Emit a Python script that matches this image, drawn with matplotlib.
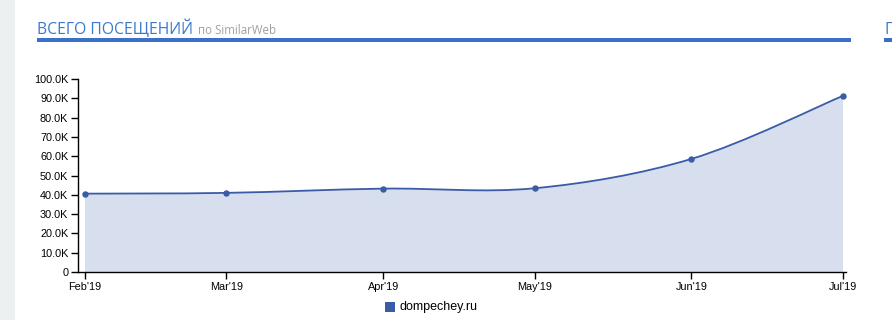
import numpy as np
import matplotlib.pyplot as plt
import matplotlib.dates as mdates
from matplotlib.path import Path
from matplotlib.patches import PathPatch, Rectangle
from matplotlib.ticker import FuncFormatter
from datetime import datetime

months = ["2019-02-01", "2019-03-01", "2019-04-01", "2019-05-01", "2019-06-01", "2019-07-01"]
visits = [40600, 41000, 43200, 43400, 58600, 91300]
site = "dompechey.ru"
y_ticks = [0, 10000, 20000, 30000, 40000, 50000, 60000, 70000, 80000, 90000, 100000]

line_col = "#3a5ca8"
fill_col = "#d7dfee"


def cardinal_path(x, y):
    # catmull-rom style bezier segments, ends duplicated (like d3 curveCardinal)
    pts = np.column_stack([x, y]).astype(float)
    ext = np.vstack([pts[:1], pts, pts[-1:]])
    verts = [tuple(pts[0])]
    codes = [Path.MOVETO]
    for i in range(len(pts) - 1):
        p0, p1, p2, p3 = ext[i], ext[i + 1], ext[i + 2], ext[i + 3]
        c1 = p1 + (p2 - p0) / 6
        c2 = p2 - (p3 - p1) / 6
        verts += [tuple(c1), tuple(c2), tuple(p2)]
        codes += [Path.CURVE4] * 3
    return verts, codes


dates = [datetime.strptime(m, "%Y-%m-%d") for m in months]
xs = mdates.date2num(dates)

fig = plt.figure(figsize=(8.92, 3.2), dpi=100)
fig.patch.set_facecolor("white")
plt.rcParams['font.family'] = ['Liberation Sans', 'DejaVu Sans']

# side strip and header
fig.add_artist(Rectangle((0, 0), 15 / 892, 1, transform=fig.transFigure, color="#ecf0f1", lw=0))
fig.add_artist(Rectangle((37 / 892, 1 - 42 / 320), (851 - 37) / 892, 4 / 320,
                         transform=fig.transFigure, color="#3a70c8", lw=0))
fig.add_artist(Rectangle((884 / 892, 1 - 42 / 320), 10 / 892, 4 / 320,
                         transform=fig.transFigure, color="#3a70c8", lw=0))
t1 = fig.text(37 / 892, 1 - 34 / 320, "ВСЕГО ПОСЕЩЕНИЙ", color="#3b78d0", fontsize=11.3,
              family=["Open Sans", "DejaVu Sans"], va="baseline")
fig.canvas.draw()
bb = t1.get_window_extent()
fig.text((bb.x1 + 5) / 892, 1 - 34 / 320, "по SimilarWeb", color="#a0a0a0", fontsize=8.3,
         family=["Open Sans", "DejaVu Sans"], va="baseline")
# next panel's title, cut by the edge as in the page
fig.text(884 / 892, 1 - 34 / 320, "П", color="#3b78d0", fontsize=11.3,
         family=["Open Sans", "DejaVu Sans"], va="baseline", clip_on=False)

ax = fig.add_axes([78 / 892, 1 - 272 / 320, (846 - 78) / 892, (272 - 79) / 320])
px_day = (843 - 85) / (xs[-1] - xs[0])
ax.set_xlim(xs[0] - 7 / px_day, xs[-1] + 3 / px_day)
ax.set_ylim(0, 100000)

verts, codes = cardinal_path(xs, visits)
fill_verts = verts + [(xs[-1], 0), (xs[0], 0), verts[0]]
fill_codes = codes + [Path.LINETO, Path.LINETO, Path.CLOSEPOLY]
ax.add_patch(PathPatch(Path(fill_verts, fill_codes), facecolor=fill_col, edgecolor="none", zorder=1))
ax.add_patch(PathPatch(Path(verts, codes), facecolor="none", edgecolor=line_col, lw=1.3, zorder=2))
ax.plot(xs, visits, "o", color=line_col, ms=3.6, zorder=3)

for s in ["top", "right"]:
    ax.spines[s].set_visible(False)
for s in ["left", "bottom"]:
    ax.spines[s].set_color("black")
    ax.spines[s].set_linewidth(1)

ax.set_yticks(y_ticks)
ax.yaxis.set_major_formatter(FuncFormatter(lambda v, p: "0" if v == 0 else "%.1fK" % (v / 1000)))
ax.set_xticks(xs)
ax.set_xticklabels([d.strftime("%b'%y") for d in dates])
ax.tick_params(axis="both", length=5, width=1, labelsize=7.8, colors="black", pad=2)

# legend
fig.add_artist(Rectangle((385 / 892, 1 - 312 / 320), 10 / 892, 10 / 320, transform=fig.transFigure,
                         color=line_col, lw=0))
fig.text(399 / 892, 1 - 307 / 320, site, fontsize=9, va="center", color="black")

fig.savefig("out.png", dpi=100)
